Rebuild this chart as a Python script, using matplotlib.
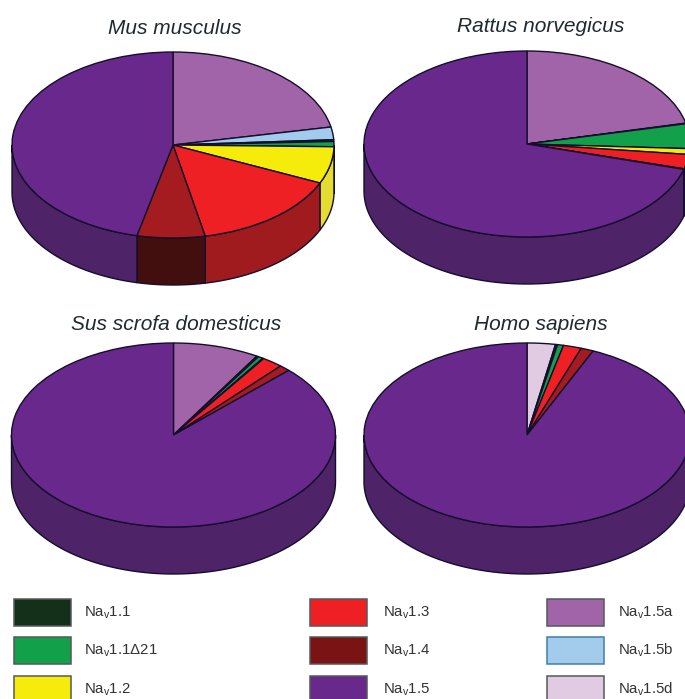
import numpy as np
import matplotlib
matplotlib.use("Agg")
import matplotlib.pyplot as plt
from matplotlib.patches import Polygon, Rectangle

plt.rcParams['font.family'] = ['Liberation Sans', 'DejaVu Sans']
plt.rcParams['mathtext.fontset'] = 'custom'
plt.rcParams['mathtext.rm'] = 'Liberation Sans'
plt.rcParams['mathtext.default'] = 'rm'

W, H = 685, 699

# Clockwise slice order, starting from 12 o'clock
isoforms = ['1.5a', '1.5b', '1.5d', '1.1', '1.1Δ21', '1.2', '1.3', '1.4', '1.5']
mus = [21.9, 2.2, 0, 0.3, 0.9, 6.4, 15.1, 6.8, 46.4]
rat = [21.4, 0, 0, 0.1, 4.3, 1.0, 2.5, 0.1, 70.6]
pig = [8.6, 0, 0, 0.2, 0.5, 0.1, 2.1, 1.1, 87.4]
human = [0, 0, 2.8, 0.2, 0.6, 0, 1.8, 1.25, 93.35]
species = ['Mus musculus', 'Rattus norvegicus', 'Sus scrofa domesticus', 'Homo sapiens']
datasets = [mus, rat, pig, human]

top_colors = ['#a264a8', '#a3cbec', '#e0cbe2', '#14301a', '#12a04a', '#f6ec0c',
              '#ee2024', '#a51c20', '#69288c']
side_colors = ['#6e4072', '#7a98b0', '#a898aa', '#0c1c10', '#0c6c32', '#e6dc30',
               '#a01b1e', '#420e0e', '#4e2368']
legend_colors = {'1.1': '#14301a', '1.1Δ21': '#12a04a', '1.2': '#f6ec0c',
                 '1.3': '#ee2024', '1.4': '#7a1414', '1.5': '#69288c',
                 '1.5a': '#a264a8', '1.5b': '#a3cbec', '1.5d': '#e0cbe2'}
legend_cols = [['1.1', '1.1Δ21', '1.2'], ['1.3', '1.4', '1.5'], ['1.5a', '1.5b', '1.5d']]

# layout in pixels: centre x, centre y, radius x, radius y, wall depth, title x, title y
layouts = [(173, 145, 161, 93, 47, 175, 28),
           (527, 144, 163, 93, 47, 541, 27),
           (173.5, 435, 162, 92, 47, 176, 324),
           (527, 435, 163, 92, 47, 541, 324)]
EDGE = '#140e2c'
LW = 1.0

fig = plt.figure(figsize=(W / 100, H / 100), dpi=100, facecolor='white')


def px_axes(x0, y0, x1, y1):
    """Axes from pixel box with y measured from the top."""
    return fig.add_axes([x0 / W, 1 - y1 / H, (x1 - x0) / W, (y1 - y0) / H])


for name, vals, (cx, cy, rx, ry, depth, tx, ty) in zip(species, datasets, layouts):
    m = 6
    ax = px_axes(cx - rx - m, cy - ry - m, cx + rx + m, cy + ry + depth + m)
    keep = [i for i, v in enumerate(vals) if v > 0]
    v = np.array([vals[i] for i in keep], float)
    ax.pie(v, colors=[top_colors[i] for i in keep], startangle=90, counterclock=False,
           radius=1, wedgeprops=dict(edgecolor=EDGE, linewidth=LW, zorder=3))
    ax.set_aspect('auto')
    ax.set_xlim(-1 - m / rx, 1 + m / rx)
    ax.set_ylim(-1 - (depth + m) / ry, 1 + m / ry)
    d = depth / ry

    # Visible wall: the front half of the rim, clockwise angles 90..270 from the top
    edges = np.concatenate([[0], np.cumsum(v) / v.sum() * 360])
    for j, i in enumerate(keep):
        a0, a1 = max(edges[j], 90), min(edges[j + 1], 270)
        if a1 <= a0:
            continue
        t = np.radians(np.linspace(a0, a1, 80))
        xs, ys = np.sin(t), np.cos(t)
        pts = np.vstack([np.column_stack([xs, ys]),
                         np.column_stack([xs[::-1], ys[::-1] - d])])
        ax.add_patch(Polygon(pts, closed=True, facecolor=side_colors[i],
                             edgecolor=EDGE, linewidth=LW, zorder=2))
    fig.text(tx / W, 1 - ty / H, name, style='italic', fontsize=15, color='#1e2a2e',
             ha='center', va='center')

# Legend
lax = fig.add_axes([0, 0, 1, 1], zorder=5)
lax.set_xlim(0, W)
lax.set_ylim(H, 0)
lax.axis('off')
col_x = [14, 310, 547]
label_x = [84, 383, 618]
row_y = [599, 637, 676]
for x, tx, col in zip(col_x, label_x, legend_cols):
    for y, key in zip(row_y, col):
        ec = '#3f7fa6' if key == '1.5b' else '#55595a'
        lax.add_patch(Rectangle((x, y), 57, 26.5, facecolor=legend_colors[key],
                                edgecolor=ec, linewidth=1.1))
        lax.text(tx, y + 13.5, r'Na$_{\mathrm{v}}$' + key, fontsize=10.8, color='#333333',
                 ha='left', va='center')

fig.savefig('out.png', dpi=100)
